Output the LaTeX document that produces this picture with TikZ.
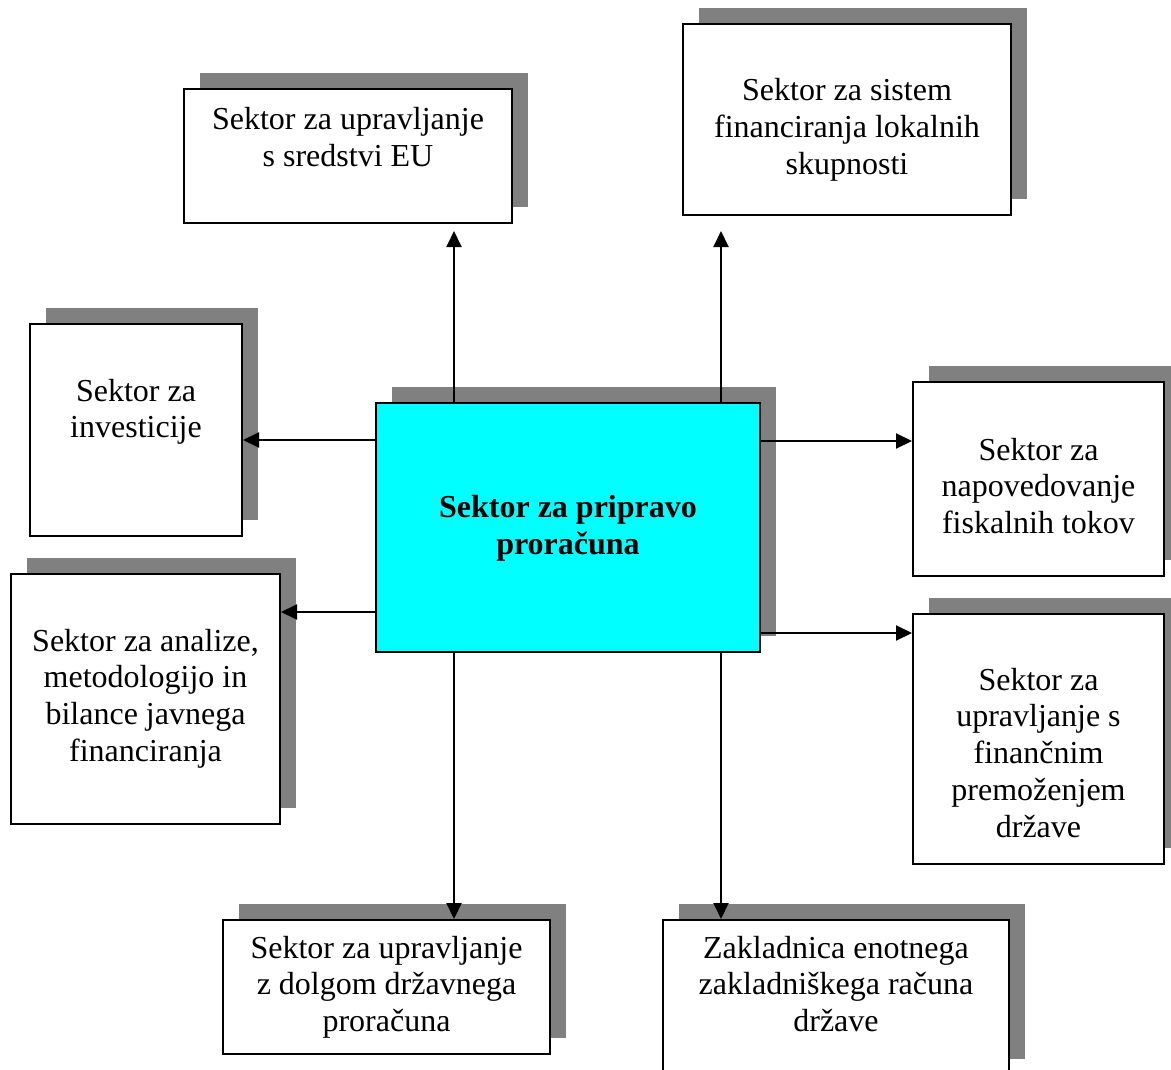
\documentclass[tikz,border=0pt]{standalone}
\usepackage{fontspec}
\setmainfont{Liberation Serif}
\usetikzlibrary{arrows.meta,shadows}
\definecolor{shadowgray}{HTML}{808080}
\definecolor{headcyan}{HTML}{00FFFF}
\tikzset{
  box/.style={draw=black, line width=2pt, fill=white, rectangle, inner sep=0pt,
    general shadow={fill=shadowgray, shadow xshift=16pt, shadow yshift=16pt}},
  label/.style={align=center, inner sep=0pt, anchor=base,
    font=\fontsize{32}{36.8}\selectfont},
  arr/.style={line width=2pt, -{Triangle[length=16pt,width=15pt]}}
}
\begin{document}
\begin{tikzpicture}[x=1pt,y=-1pt]
\clip (0,0) rectangle (1171,1070);
\fill[white] (0,0) rectangle (1171,1070);

% boxes
\node[box, minimum width=328pt, minimum height=134pt] (eu)    at (348,156)    {};
\node[box, minimum width=328pt, minimum height=191pt] (local) at (847,119.5)  {};
\node[box, minimum width=212pt, minimum height=212pt] (inv)   at (136,430)    {};
\node[box, fill=headcyan, minimum width=384pt, minimum height=249pt] (main) at (568,527.5) {};
\node[box, minimum width=251pt, minimum height=194pt] (napov) at (1038.5,479)  {};
\node[box, minimum width=269pt, minimum height=250pt] (anal)  at (145.5,699)  {};
\node[box, minimum width=251pt, minimum height=250pt] (finan) at (1038.5,739)  {};
\node[box, minimum width=327pt, minimum height=134pt] (dolg)  at (386.5,987)  {};
\node[box, minimum width=346pt, minimum height=155pt] (zakl)  at (836,997.5)  {};

% texts (anchored at the baseline of the last line)
\node[label] (eut)    at (348,166.8)  {Sektor za upravljanje\\s sredstvi EU};
\node[label] (localt) at (847,174.6)  {Sektor za sistem\\financiranja lokalnih\\skupnosti};
\node[label] (invt)   at (136,437.8)  {Sektor za\\investicije};
\node[label, font=\bfseries\fontsize{32}{37.5}\selectfont] (maint) at (568,554.5) {Sektor za pripravo\\proračuna};
\node[label] (napovt) at (1038.5,533.6) {Sektor za\\napovedovanje\\fiskalnih tokov};
\node[label] (analt)  at (145.5,761.4) {Sektor za analize,\\metodologijo in\\bilance javnega\\financiranja};
\node[label] (finant) at (1038.5,837.2) {Sektor za\\upravljanje s\\finančnim\\premoženjem\\države};
\node[label] (dolgt)  at (386.5,1031.6) {Sektor za upravljanje\\z dolgom državnega\\proračuna};
\node[label] (zaklt)  at (836,1031.6)   {Zakladnica enotnega\\zakladniškega računa\\države};

% guide positions of the connector lines
\coordinate (ca) at (454,0);
\coordinate (cb) at (721,0);
\coordinate (r1) at (0,440);
\coordinate (r2) at (0,612);
\coordinate (r3) at (0,441);
\coordinate (r4) at (0,633);

% connectors
\draw[arr, shorten >=7pt]  (main.north -| ca) -- (eu.south -| ca);
\draw[arr, shorten >=15pt] (main.north -| cb) -- (local.south -| cb);
\draw[arr] (main.west |- r1) -- (inv.east |- r1);
\draw[arr] (main.west |- r2) -- (anal.east |- r2);
\draw[arr] (main.east |- r3) -- (napov.west |- r3);
\draw[arr] (main.east |- r4) -- (finan.west |- r4);
\draw[arr] (main.south -| ca) -- (dolg.north -| ca);
\draw[arr] (main.south -| cb) -- (zakl.north -| cb);
\end{tikzpicture}
\end{document}
